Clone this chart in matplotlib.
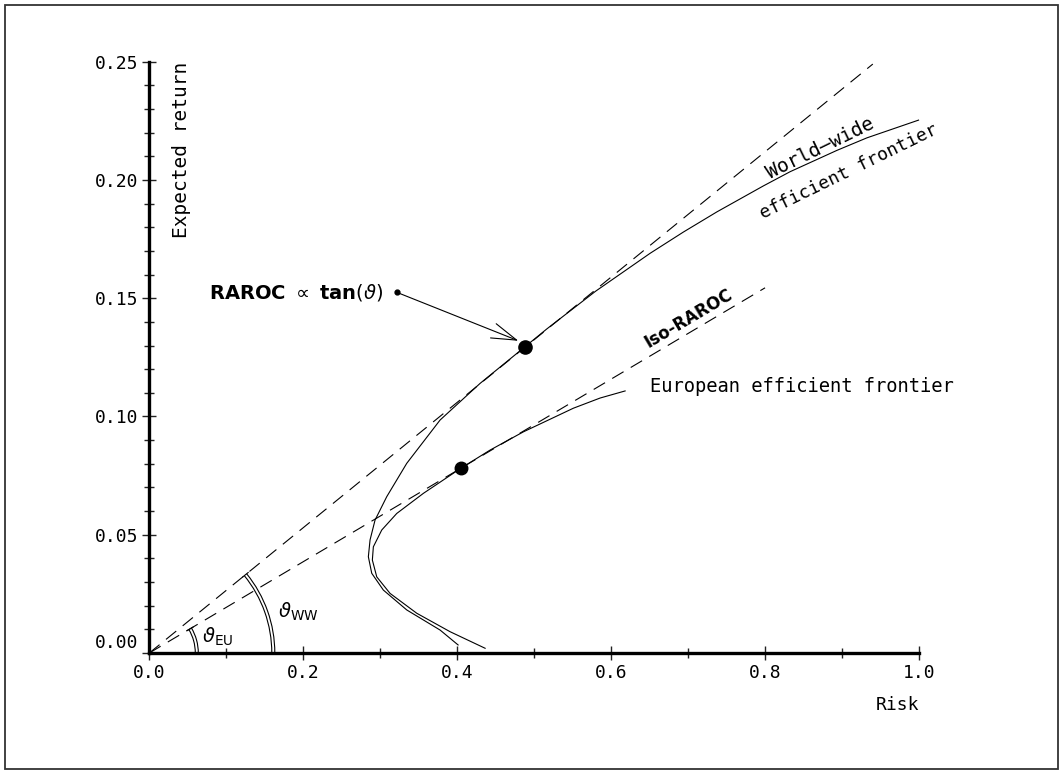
import numpy as np
import matplotlib
matplotlib.use("Agg")
import matplotlib.pyplot as plt
from matplotlib.patches import Arc, Rectangle
from matplotlib.transforms import ScaledTranslation

# ---------------- data ----------------
ww_risk = [0.9994, 0.9323, 0.8933, 0.8326, 0.7979, 0.7374, 0.6940, 0.6507,
           0.5800, 0.5164, 0.4882, 0.4298, 0.3778, 0.3345, 0.3085, 0.2933,
           0.2868, 0.2846, 0.2890, 0.3041, 0.3345, 0.3778, 0.4012]
ww_ret = [0.2253, 0.2178, 0.2125, 0.2035, 0.1975, 0.1865, 0.1780, 0.1690,
          0.1530, 0.1370, 0.1295, 0.1140, 0.0985, 0.0802, 0.0661, 0.0562,
          0.0478, 0.0407, 0.0337, 0.0266, 0.0182, 0.0097, 0.0034]

eu_risk = [0.6182, 0.5857, 0.5510, 0.4860, 0.4428, 0.4047, 0.3561, 0.3215,
           0.3020, 0.2911, 0.2898, 0.2955, 0.3128, 0.3475, 0.3908, 0.4363]
eu_ret = [0.1108, 0.1078, 0.1035, 0.0935, 0.0858, 0.0781, 0.0675, 0.0590,
          0.0520, 0.0449, 0.0393, 0.0322, 0.0252, 0.0168, 0.0090, 0.0020]

ww_tangent_x = [0.0, 0.94]
ww_tangent_y = [0.0, 0.249]
eu_tangent_x = [0.0, 0.80]
eu_tangent_y = [0.0, 0.1544]

ww_point = (0.4882, 0.1295)
eu_point = (0.4047, 0.0781)

x_ticks = [0.0, 0.2, 0.4, 0.6, 0.8, 1.0]
x_ticklabels = ["0.0", "0.2", "0.4", "0.6", "0.8", "1.0"]
y_ticks = [0.00, 0.05, 0.10, 0.15, 0.20, 0.25]
y_ticklabels = ["0.00", "0.05", "0.10", "0.15", "0.20", "0.25"]

# ---------------- style ----------------
plt.rcParams["font.family"] = ["DejaVu Sans Mono", "DejaVu Sans"]
plt.rcParams["mathtext.fontset"] = "dejavusans"
plt.rcParams["lines.scale_dashes"] = False
FS = 13
ink = "black"

fig = plt.figure(figsize=(10.62, 7.73), dpi=100)
fig.patch.set_facecolor("white")
fig.patches.append(Rectangle((4.5 / 1062, 4.5 / 773), 1053 / 1062, 764 / 773,
                             transform=fig.transFigure, fill=False,
                             edgecolor="#333333", linewidth=1.3))

ax = fig.add_axes([0.14058, 0.15524, 0.72477, 0.76494])
ax.set_xlim(0, 1.0)
ax.set_ylim(0, 0.25)
for s in ["top", "right"]:
    ax.spines[s].set_visible(False)
for s in ["left", "bottom"]:
    ax.spines[s].set_linewidth(2.4)
    ax.spines[s].set_color("black")
    ax.spines[s].set_capstyle("projecting")

ax.set_xticks(x_ticks)
ax.set_xticklabels(x_ticklabels)
ax.set_yticks(y_ticks)
ax.set_yticklabels(y_ticklabels)
ax.set_xticks(np.arange(0.1, 1.0, 0.2), minor=True)
ax.set_yticks([v for v in np.arange(0.01, 0.25, 0.01) if abs(v / 0.05 - round(v / 0.05)) > 1e-6], minor=True)
ax.tick_params(which="major", direction="inout", length=9.5, width=1.0, color="#222222",
               labelsize=FS, pad=3, labelcolor=ink)
ax.tick_params(which="minor", direction="inout", length=7, width=1.0, color="#222222")
ax.patch.set_alpha(0)

# raise the 0.00 label slightly as in the reference
fig.canvas.draw()
zero_lab = ax.yaxis.get_major_ticks()[0].label1
zero_lab.set_transform(zero_lab.get_transform() + ScaledTranslation(0, 12 / 100, fig.dpi_scale_trans))

# dashed tangent lines
ax.plot(ww_tangent_x, ww_tangent_y, color=ink, lw=0.8, dashes=(9.5, 6), clip_on=False)
ax.plot(eu_tangent_x, eu_tangent_y, color=ink, lw=0.8, dashes=(9.5, 6), clip_on=False)

# frontiers
ax.plot(ww_risk, ww_ret, color=ink, lw=0.8, clip_on=False)
ax.plot(eu_risk, eu_ret, color=ink, lw=0.8, clip_on=False)

# tangency points
ax.plot(*ww_point, "o", color="black", ms=9.5, zorder=5)
ax.plot(*eu_point, "o", color="black", ms=9, zorder=5)

# angle arcs (circular on screen) centred at the origin
origin_tr = fig.dpi_scale_trans + ScaledTranslation(0, 0, ax.transData)


def disp_angle(xs, ys):
    p0 = ax.transData.transform((xs[0], ys[0]))
    p1 = ax.transData.transform((xs[1], ys[1]))
    return np.degrees(np.arctan2(p1[1] - p0[1], p1[0] - p0[0]))


for (xs, ys), radii in [((eu_tangent_x, eu_tangent_y), (0.46, 0.49)),
                        ((ww_tangent_x, ww_tangent_y), (1.225, 1.255))]:
    ang = disp_angle(xs, ys)
    for r in radii:
        ax.add_patch(Arc((0, 0), 2 * r, 2 * r, theta1=0, theta2=ang,
                         transform=origin_tr, color=ink, lw=0.8, clip_on=False))
    a = np.radians(ang)
    r0, r1 = radii[0] - 0.02, radii[1] + 0.02
    ax.plot([r0 * np.cos(a), r1 * np.cos(a)], [r0 * np.sin(a), r1 * np.sin(a)],
            transform=origin_tr, color=ink, lw=0.8, clip_on=False)

ax.text(0.0686, 0.0068, r"$\vartheta_{\mathrm{EU}}$", fontsize=FS + 1, ha="left", va="center", color=ink)
ax.text(0.1673, 0.0173, r"$\vartheta_{\mathrm{WW}}$", fontsize=FS + 1, ha="left", va="center", color=ink)

# labels
ax.text(0.042, 0.25, "Expected return", rotation=90, ha="center", va="top",
        fontsize=FS + 1, color=ink)
ax.text(1.0, -0.022, "Risk", ha="right", va="center", fontsize=FS, color=ink, clip_on=False)

ax.text(0.6505, 0.1128, "European efficient frontier", ha="left", va="center",
        fontsize=FS + 0.5, color=ink)

iso_ang = disp_angle(eu_tangent_x, eu_tangent_y)
ax.text(0.648, 0.129, "Iso-RAROC", rotation=iso_ang, rotation_mode="anchor",
        ha="left", va="baseline", fontsize=FS - 1, fontweight="bold",
        family="DejaVu Sans", color=ink)

ax.text(0.8714, 0.2133, "World\u2013wide", rotation=26, rotation_mode="anchor",
        ha="center", va="center", fontsize=FS + 1, color=ink)
ax.text(0.9084, 0.2034, "efficient frontier", rotation=26, rotation_mode="anchor",
        ha="center", va="center", fontsize=FS, color=ink)

# RAROC annotation
ax.text(0.3037, 0.1526, r"$\mathbf{RAROC}\ \propto\ \mathbf{tan}\left(\vartheta\right)$",
        ha="right", va="center", fontsize=FS + 1, color=ink)
ax.plot(0.3215, 0.1525, "o", color="black", ms=3.5)
ax.annotate("", xy=(0.4795, 0.1320), xytext=(0.3215, 0.1525),
            arrowprops=dict(arrowstyle="->,head_length=1.8,head_width=0.55",
                            mutation_scale=10, lw=0.8, color=ink,
                            shrinkA=0, shrinkB=0))

fig.savefig("out.png", dpi=100, facecolor="white")
